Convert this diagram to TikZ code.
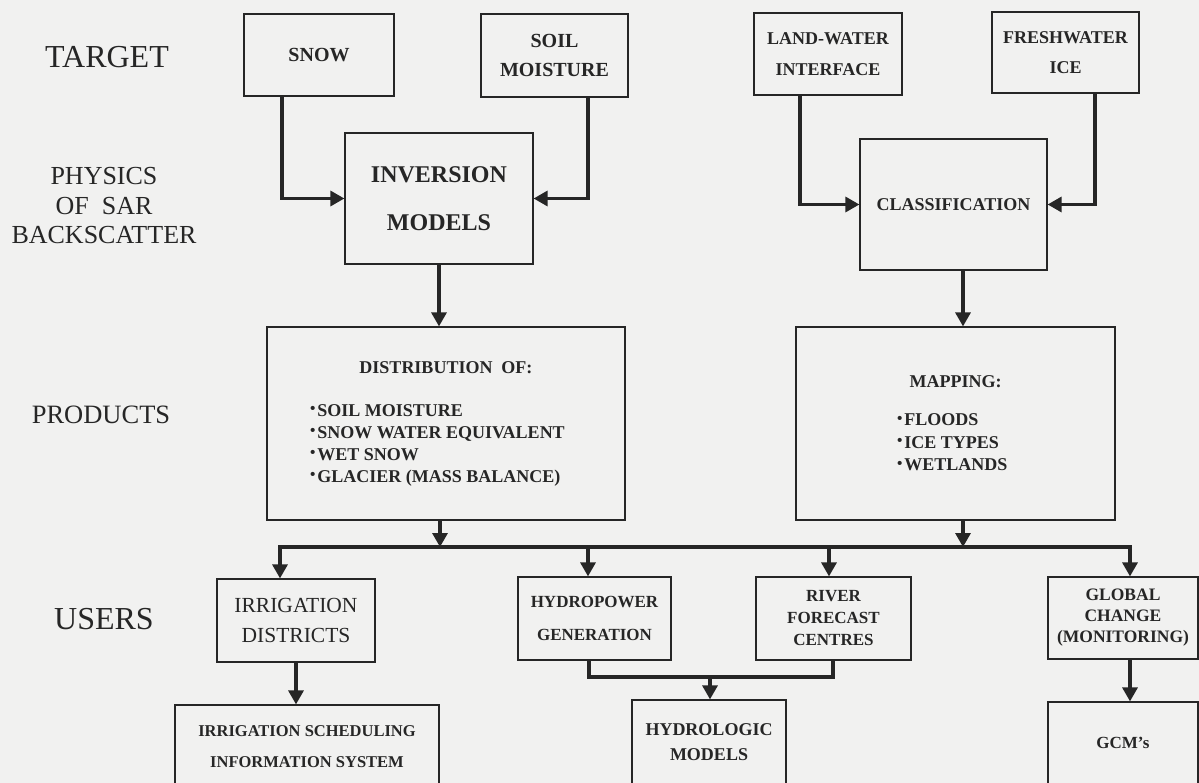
\documentclass[tikz,border=0pt]{standalone}
\usepackage{fontspec}
\setmainfont{Liberation Serif}
\usepackage{graphicx}
\usetikzlibrary{arrows.meta}
\definecolor{bgc}{RGB}{241,241,240}
\definecolor{ink}{RGB}{38,38,38}
\newcommand\fsz[2]{\fontsize{#1}{#2}\selectfont}
\newcommand\bxf[2]{\fontsize{#1}{#2}\selectfont\bfseries}
\newcommand\bul{\raisebox{0.3ex}{\scalebox{0.85}{\textbullet}}\hspace{2pt}}
\tikzset{
 bx/.style={draw=ink, line width=1.2pt, text=ink, align=center, inner sep=0pt},
 lbl/.style={text=ink, align=center, inner sep=0pt},
 conn/.style={draw=ink, line width=3.2pt, -{Triangle[width=15pt,length=14pt]}},
 wire/.style={draw=ink, line width=3.2pt},
}
\begin{document}
\begin{tikzpicture}[x=1pt, y=-1pt]
\useasboundingbox (0,0) rectangle (1199,783);
\fill[bgc] (0,0) rectangle (1199,783);
\clip (0,0) rectangle (1199,783);

% left labels
\node[lbl, font=\fsz{32}{36}] (tTarget) at (107,57) {TARGET};
\node[lbl, font=\fsz{26}{29.5}] (tPhys) at (104,206) {PHYSICS\\OF\ \ SAR\\BACKSCATTER};
\node[lbl, font=\fsz{26.5}{30}] (tProd) at (101,415) {PRODUCTS};
\node[lbl, font=\fsz{32}{36}] (tUsers) at (104,619) {USERS};

% targets
\node[bx, minimum width=150pt, minimum height=82pt, font=\bxf{20}{29}] (snow) at (319,55) {SNOW};
\node[bx, minimum width=147pt, minimum height=83pt, font=\bxf{20}{29}] (soil) at (554.5,55.5) {SOIL\\MOISTURE};
\node[bx, minimum width=148pt, minimum height=82pt, font=\bxf{18}{31}] (land) at (828,54) {LAND-WATER\\INTERFACE};
\node[bx, minimum width=147pt, minimum height=81pt, font=\bxf{18}{30}] (fresh) at (1065.5,52.5) {FRESHWATER\\ICE};

% physics
\node[bx, minimum width=188pt, minimum height=131pt, font=\bxf{24}{48}] (inv) at (439,198.5) {INVERSION\\MODELS};
\node[bx, minimum width=187pt, minimum height=131pt, font=\bxf{18}{22}] (cls) at (953.5,204.5) {CLASSIFICATION};

% products
\node[bx, align=left, minimum width=358pt, minimum height=193pt, font=\bxf{18}{22}] (dist) at (446,423.5)
 {\makebox[272pt][c]{DISTRIBUTION\ \ OF:}\\[21pt]\bul SOIL MOISTURE\\\bul SNOW WATER EQUIVALENT\\\bul WET SNOW\\\bul GLACIER (MASS BALANCE)};
\node[bx, align=left, minimum width=319pt, minimum height=193pt, font=\bxf{18}{22.5}] (map) at (955.5,423.5)
 {\makebox[117pt][c]{MAPPING:}\\[15.5pt]\bul FLOODS\\\bul ICE TYPES\\\bul WETLANDS};

% users
\node[bx, minimum width=158pt, minimum height=83pt, font=\fsz{21.5}{30}] (irr) at (296,620.5) {IRRIGATION\\DISTRICTS};
\node[bx, minimum width=153pt, minimum height=83pt, font=\bxf{17}{33}] (hydro) at (594.5,618.5) {HYDROPOWER\\GENERATION};
\node[bx, minimum width=155pt, minimum height=83pt, font=\bxf{17}{22}] (river) at (833.5,618.5) {RIVER\\FORECAST\\CENTRES};
\node[bx, minimum width=150pt, minimum height=82pt, font=\bxf{17.5}{21}] (global) at (1123,618) {GLOBAL\\CHANGE\\(MONITORING)};

% bottom row
\node[bx, minimum width=264pt, minimum height=83pt, font=\bxf{16.5}{31}] (sched) at (307,746.5) {IRRIGATION SCHEDULING\\INFORMATION SYSTEM};
\node[bx, minimum width=154pt, minimum height=84pt, font=\bxf{18}{25}] (hydrol) at (709,742) {HYDROLOGIC\\MODELS};
\node[bx, minimum width=150pt, minimum height=82pt, font=\bxf{17}{20}] (gcm) at (1123,743) {GCM's};

% connectors top
\draw[conn] ([xshift=-37pt]snow.south) |- (inv.west);
\draw[conn] ([xshift=33.5pt]soil.south) |- (inv.east);
\draw[conn] ([xshift=-28pt]land.south) |- (cls.west);
\draw[conn] ([xshift=29.5pt]fresh.south) |- (cls.east);
\draw[conn] (inv.south) -- (inv.south |- dist.north);
\coordinate (c1) at ([xshift=9.5pt]cls.south);
\draw[conn] (c1) -- (c1 |- map.north);

% bus
\coordinate (b1) at (280,547);
\coordinate (b2) at (588,547);
\coordinate (b3) at (829,547);
\coordinate (b4) at (1130,547);
\coordinate (d1) at ([xshift=-6pt]dist.south);
\coordinate (m1) at ([xshift=7.5pt]map.south);
\draw[wire] (b2) -- (b3);
\draw[conn] (b2) -| (b1 |- irr.north);
\draw[conn] (b3) -| (b4 |- global.north);
\draw[conn] (b2) -- (b2 |- hydro.north);
\draw[conn] (b3) -- (b3 |- river.north);
\draw[conn] (d1) -- (d1 |- b1);
\draw[conn] (m1) -- (m1 |- b1);

% users to bottom
\draw[conn] (irr.south) -- (irr.south |- sched.north);
\coordinate (h1) at (589,677);
\coordinate (h2) at (833,677);
\coordinate (j) at (710,677);
\draw[wire] (h1 |- hydro.south) -- (h1) -- (h2) -- (h2 |- river.south);
\draw[conn] (j) -- (j |- hydrol.north);
\draw[conn] (b4 |- global.south) -- (b4 |- gcm.north);
\end{tikzpicture}
\end{document}
